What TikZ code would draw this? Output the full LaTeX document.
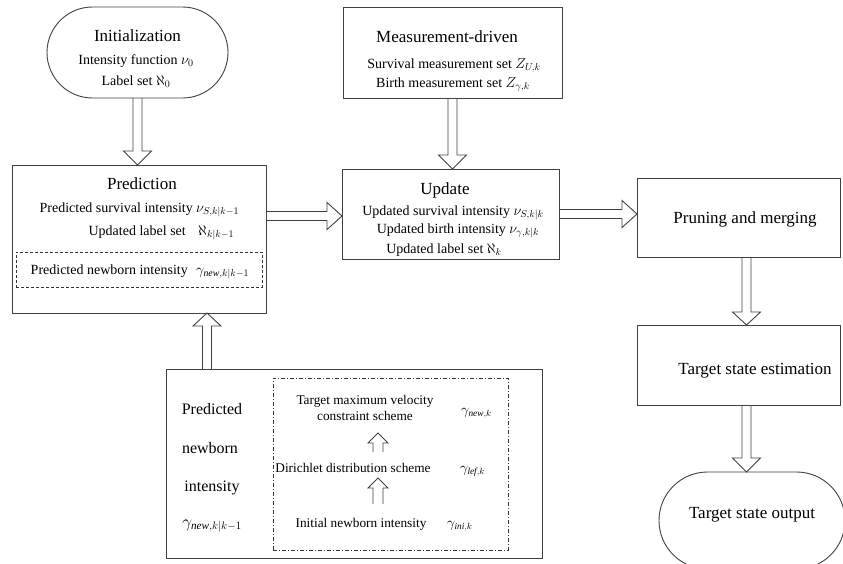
\documentclass[tikz,border=0pt]{standalone}
\usepackage{fontspec}
\setmainfont{Liberation Serif}
\usetikzlibrary{calc,shapes.misc}
\tikzset{
  ln/.style={draw=black!75, line width=0.9pt},
  box/.style={ln, rectangle, inner sep=0pt, outer sep=0pt},
  pill/.style={ln, rounded rectangle, inner sep=0pt, outer sep=0pt},
  ttl/.style={font=\fontsize{17}{20}\selectfont, inner sep=0pt},
  txt/.style={font=\fontsize{14}{17}\selectfont, inner sep=0pt},
  sml/.style={font=\fontsize{13.3}{16}\selectfont, inner sep=0pt},
  lft/.style={font=\fontsize{16}{19}\selectfont, inner sep=0pt},
  fat/.style={ln, line join=miter},
}
% start, tip, shaft half width, head half width, head length
\newcommand\fatarr[5]{%
  \draw[fat] let \p1=(#1), \p2=(#2), \n1={atan2(\y2-\y1,\x2-\x1)},
    \n2={veclen(\x2-\x1,\y2-\y1)} in
    [shift={(\p1)}, rotate=\n1]
    (0,-#3) -- (\n2-#5,-#3) -- (\n2-#5,-#4) -- (\n2,0) -- (\n2-#5,#4)
    -- (\n2-#5,#3) -- (0,#3);}
\begin{document}
\begin{tikzpicture}[x=1pt,y=-1pt]
\useasboundingbox (0,0) rectangle (843,563);
\begin{scope}
\clip (0,0) rectangle (843,563);
% boxes
\node[pill, minimum width=181pt, minimum height=91pt] (init) at (137.5,52.5) {};
\node[box, minimum width=219pt, minimum height=90.5pt] (meas) at (452.5,52.75) {};
\node[box, minimum width=254pt, minimum height=148pt] (pred) at (139,239) {};
\node[box, draw=black!80, dash pattern=on 3pt off 2pt, minimum width=246pt, minimum height=35pt] (dbox) at (139,269.5) {};
\node[box, minimum width=217pt, minimum height=90pt] (upd) at (450.5,214) {};
\node[box, minimum width=203pt, minimum height=79pt] (prune) at (738.5,217.5) {};
\node[box, minimum width=203pt, minimum height=80pt] (est) at (738.5,365) {};
\node[pill, minimum width=186pt, minimum height=97pt] (out) at (752,520.5) {};
\node[box, minimum width=376pt, minimum height=189pt] (bot) at (354,463.5) {};
\node[box, draw=black!80, dash pattern=on 4pt off 2pt on 1pt off 2pt, minimum width=235pt, minimum height=172pt] (ibox) at (390.5,464) {};
\end{scope}

% texts: initialization
\node[ttl, anchor=base] (t1) at (137.5,41) {Initialization};
\node[txt, anchor=base] (t2) at (136,64) {Intensity function $\nu_0$};
\node[txt, anchor=base] (t3) at (136,85) {Label set $\aleph_0$};
% measurement
\node[ttl, anchor=base] (m1) at (447,42) {Measurement-driven};
\node[txt, anchor=base] (m2) at (454,68) {Survival measurement set $Z_{U,k}$};
\node[txt, anchor=base] (m3) at (453,87) {Birth measurement set $Z_{\gamma,k}$};
% prediction
\node[ttl, anchor=base] (p1) at (142,189) {Prediction};
\node[txt, anchor=base east] (p2) at (193,212) {Predicted survival intensity};
\node[txt, anchor=base west] (p2m) at (196,212) {$\nu_{S,k|k-1}$};
\node[txt, anchor=base east] (p3) at (186,235) {Updated label set};
\node[txt, anchor=base west] (p3m) at (198,235) {$\aleph_{k|k-1}$};
\node[txt, anchor=base east] (p4) at (188,274) {Predicted newborn intensity};
\node[txt, anchor=base west] (p4m) at (196,274) {$\gamma_{\mathit{new},k|k-1}$};
% update
\node[ttl, anchor=base] (u1) at (445,194) {Update};
\node[txt, anchor=base] (u2) at (453,215) {Updated survival intensity $\nu_{S,k|k}$};
\node[txt, anchor=base] (u3) at (458,233) {Updated birth intensity $\nu_{\gamma,k|k}$};
\node[txt, anchor=base] (u4) at (444,253) {Updated label set $\aleph_k$};
% right column
\node[ttl, anchor=base] (r1) at (745,223) {Pruning and merging};
\node[ttl, anchor=base] (r2) at (755,374) {Target state estimation};
\node[ttl, anchor=base] (r3) at (752,518) {Target state output};
% bottom left column
\node[lft, anchor=base] (b1) at (212,414) {Predicted};
\node[lft, anchor=base] (b2) at (210,453) {newborn};
\node[lft, anchor=base] (b3) at (212,491) {intensity};
\node[lft, anchor=base] (b4) at (212,527) {$\gamma_{\mathit{new},k|k-1}$};
% inner schemes
\node[sml, anchor=base] (s1) at (365,404) {Target maximum velocity};
\node[sml, anchor=base] (s2) at (365,420) {constraint scheme};
\node[sml, anchor=base west] (s2m) at (461,414) {$\gamma_{\mathit{new},k}$};
\node[sml, anchor=base] (s3) at (353,472) {Dirichlet distribution scheme};
\node[sml, anchor=base west] (s3m) at (460,472) {$\gamma_{\mathit{lef},k}$};
\node[sml, anchor=base] (s4) at (361,527) {Initial newborn intensity};
\node[sml, anchor=base west] (s4m) at (447,527) {$\gamma_{\mathit{ini},k}$};

% helper coordinates
\coordinate (rowA) at (300,216);
\coordinate (colC) at (746.5,300);
\coordinate (colD) at (207,340);
\coordinate (sa1) at (378,452);
\coordinate (ta1) at (378,433);
\coordinate (sa2) at (378,504);
\coordinate (ta2) at (378,478);

% fat arrows
\fatarr{init.south}{init.south |- pred.north}{4.5}{14}{14}
\fatarr{meas.south}{meas.south |- upd.north}{4.5}{14}{14}
\fatarr{pred.east |- rowA}{upd.west |- rowA}{4.5}{13.5}{15}
\fatarr{upd.east}{prune.west |- upd.east}{4.5}{13.5}{15}
\fatarr{prune.south -| colC}{est.north -| colC}{4.5}{14}{13}
\fatarr{est.south -| colC}{out.north -| colC}{4.5}{14}{14}
\fatarr{bot.north -| colD}{pred.south -| colD}{4.5}{14}{13}
\fatarr{sa1}{ta1}{5}{10}{10}
\fatarr{sa2}{ta2}{5}{10}{10}
\end{tikzpicture}
\end{document}
